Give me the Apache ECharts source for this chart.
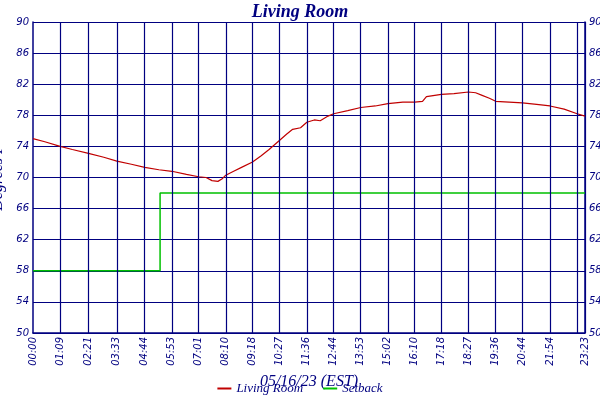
<!DOCTYPE html>
<html>
<head>
<meta charset="UTF-8">
<script src="https://cdn.jsdelivr.net/npm/echarts@6/dist/echarts.min.js"></script>
<style>
    body { margin: 0; background: #fff; }
    #chart { width: 600px; height: 400px; }
</style>
</head>
<body>
<div id="chart"></div>
<script>
    // minutes since midnight
    const tickMinutes = [0, 69, 141, 213, 284, 353, 421, 490, 558, 627, 696, 764, 833, 902, 970, 1038, 1107, 1176, 1244, 1314, 1383, 1403];
    const roomMinutes = [0, 30, 69, 100, 141, 180, 213, 250, 284, 320, 353, 390, 421, 440, 455, 470, 480, 490, 510, 530, 558, 580, 600, 627, 645, 660, 680, 696, 715, 730, 750, 764, 800, 833, 870, 902, 940, 970, 990, 1000, 1038, 1070, 1107, 1125, 1140, 1160, 1176, 1210, 1244, 1280, 1314, 1350, 1383, 1403];
    const roomTemps = [75.0, 74.6, 74.0, 73.6, 73.1, 72.6, 72.1, 71.7, 71.3, 71.0, 70.8, 70.4, 70.1, 70.0, 69.6, 69.5, 69.8, 70.3, 70.8, 71.3, 72.0, 72.8, 73.6, 74.8, 75.6, 76.2, 76.4, 77.1, 77.4, 77.3, 77.9, 78.2, 78.6, 79.0, 79.2, 79.5, 79.7, 79.7, 79.8, 80.4, 80.7, 80.8, 81.0, 80.9, 80.6, 80.2, 79.8, 79.7, 79.6, 79.4, 79.2, 78.8, 78.2, 77.9];
    const setbackMinutes = [0, 323, 1403];
    const setbackTemps = [58, 68, 68];

    function fmt(m) {
        const h = Math.floor(m / 60), mm = m % 60;
        return String(h).padStart(2, '0') + ':' + String(mm).padStart(2, '0');
    }

    const navy = '#000080';
    const labelFont = { color: navy, fontStyle: 'italic', fontFamily: 'DejaVu Sans', fontSize: 10 };

    const chart = echarts.init(document.getElementById('chart'));
    chart.setOption({
        animation: false,
        title: {
            text: 'Living Room', left: 'center', top: -2,
            textStyle: { color: navy, fontFamily: 'Liberation Serif', fontStyle: 'italic', fontWeight: 'bold', fontSize: 18 }
        },
        legend: {
            bottom: 0, itemWidth: 14, itemHeight: 2, itemGap: 20, icon: 'rect',
            textStyle: { color: navy, fontFamily: 'Liberation Serif', fontStyle: 'italic', fontSize: 13 },
            data: ['Living Room', 'Setback']
        },
        grid: { left: 33, right: 15, top: 22, bottom: 67, containLabel: false, outerBoundsMode: 'none' },
        xAxis: {
            type: 'value', min: 0, max: 1403,
            name: '05/16/23 (EST)', nameLocation: 'middle', nameGap: 38,
            nameTextStyle: { color: navy, fontFamily: 'Liberation Serif', fontStyle: 'italic', fontSize: 16, verticalAlign: 'middle' },
            axisLine: { lineStyle: { color: navy, width: 1.5 } },
            axisTick: { show: false },
            splitLine: { show: false },
            axisLabel: Object.assign({ rotate: 90, customValues: tickMinutes, formatter: v => fmt(v), margin: 4, hideOverlap: false, showMaxLabel: true }, labelFont)
        },
        yAxis: [{
            type: 'value', min: 50, max: 90, interval: 4,
            name: 'Degrees F', nameLocation: 'middle', nameGap: 22,
            nameTextStyle: { color: navy, fontFamily: 'Liberation Serif', fontStyle: 'italic', fontSize: 16 },
            axisLine: { show: true, lineStyle: { color: navy, width: 1.5 } },
            axisTick: { show: false },
            splitLine: { lineStyle: { color: navy, width: 1.2 } },
            axisLabel: Object.assign({ margin: 4 }, labelFont)
        }, {
            type: 'value', min: 50, max: 90, interval: 4, position: 'right',
            axisLine: { show: true, lineStyle: { color: navy, width: 1.5 } },
            axisTick: { show: false }, splitLine: { show: false },
            axisLabel: Object.assign({ margin: 4 }, labelFont)
        }],
        series: [{
            name: 'Living Room', type: 'line', showSymbol: false, z: 3,
            data: roomMinutes.map((m, i) => [m, roomTemps[i]]),
            lineStyle: { color: '#c00000', width: 1.2 }, itemStyle: { color: '#c00000' },
            markLine: {
                silent: true, symbol: 'none', label: { show: false },
                lineStyle: { color: navy, width: 1.2, type: 'solid' },
                data: tickMinutes.slice(1).map(m => ({ xAxis: m }))
            }
        }, {
            name: 'Setback', type: 'line', step: 'end', showSymbol: false, z: 3,
            data: setbackMinutes.map((m, i) => [m, setbackTemps[i]]),
            lineStyle: { color: '#00c000', width: 1.5 }, itemStyle: { color: '#00c000' }
        }]
    });
</script>
</body>
</html>
